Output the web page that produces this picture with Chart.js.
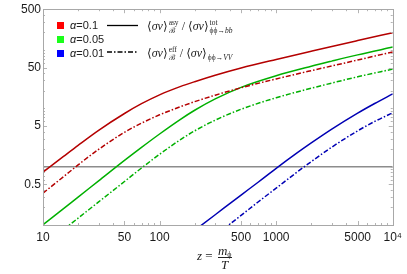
<!DOCTYPE html>
<html>
<head>
<meta charset="utf-8">
<script src="https://cdn.jsdelivr.net/npm/chart.js@4"></script>
<style>
  html, body { margin:0; padding:0; background:#fff; }
  #wrap { position:relative; width:407px; height:274px; }
  #wrap canvas { position:absolute; left:0; top:0; }
  .sq { position:absolute; width:7px; height:7px; }
  .al { position:absolute; font-family:"Liberation Sans", Arial, sans-serif; font-size:11px; line-height:13px; color:#222; }
  .mt { position:absolute; font-family:"Liberation Serif", "DejaVu Serif", serif; font-size:12px; line-height:16px; color:#222; white-space:nowrap; }
  .st { display:inline-flex; flex-direction:column; vertical-align:middle; font-size:7.5px; line-height:8px; margin-left:1px; }
  #xt { position:absolute; font-family:"Liberation Serif", "DejaVu Serif", serif; font-size:13px; color:#222; white-space:nowrap; }
  .fr { display:inline-flex; flex-direction:column; vertical-align:middle; text-align:center; line-height:13px; margin-left:2px; }
  .fr sub { font-size:8px; vertical-align:-2px; line-height:0; }
  .den { border-top:1px solid #222; }
</style>
</head>
<body>
<div id="wrap">
  <canvas id="chart" width="407" height="274"></canvas>

  <div class="sq" style="left:57px;top:21.5px;background:#ff0000"></div>
  <div class="sq" style="left:57px;top:36px;background:#1aff1a"></div>
  <div class="sq" style="left:57px;top:49.5px;background:#0000ff"></div>
  <div class="al" style="left:70px;top:18.5px"><i>α</i>=0.1</div>
  <div class="al" style="left:70px;top:33px"><i>α</i>=0.05</div>
  <div class="al" style="left:70px;top:46.5px"><i>α</i>=0.01</div>

  <svg style="position:absolute;left:107px;top:20px" width="32" height="36">
    <line x1="0" y1="5.5" x2="31" y2="5.5" stroke="#000" stroke-width="1.3"/>
    <line x1="0" y1="32" x2="31" y2="32" stroke="#000" stroke-width="1.3" stroke-dasharray="5 2 1.5 2"/>
  </svg>

  <div class="mt" style="left:147px;top:18px">⟨<i>σv</i>⟩<span class="st"><span>asy</span><span>ℬ</span></span> / ⟨<i>σv</i>⟩<span class="st"><span>tot</span><span>ϕϕ→<i>bb</i></span></span></div>
  <div class="mt" style="left:147px;top:45px">⟨<i>σv</i>⟩<span class="st"><span>eff</span><span>ℬ</span></span> / ⟨<i>σv</i>⟩<span class="st"><span>&nbsp;</span><span>ϕϕ→<i>VV</i></span></span></div>

  <div id="xt" style="left:197px;top:244px"><i>z</i> = <span class="fr"><span><i>m</i><sub>ϕ</sub></span><span class="den"><i>T</i></span></span></div>
</div>

<script>
// valores (z = m/T no eixo x, razão no eixo y)
const zRed = [10, 15, 20, 30, 50, 70, 100, 150, 200, 300, 500, 1000, 2000, 3000, 5000, 10000];
const redAsy = [0.808, 1.50, 2.32, 4.20, 8.15, 12.0, 17.0, 23.5, 28.6, 36.9, 49.1, 68.9, 95.3, 115, 145, 198];
const redEff = [0.352, 0.673, 1.07, 1.98, 3.88, 5.57, 7.74, 10.6, 13.0, 16.8, 22.5, 31.9, 44.2, 53.2, 67.3, 92.7];

const zGreen = zRed;
const greenAsy = [0.101, 0.191, 0.301, 0.571, 1.28, 2.14, 3.63, 6.41, 9.26, 14.5, 22.9, 36.2, 52.6, 64.4, 82.4, 112];
const zGreenEff = [15, 20, 30, 50, 70, 100, 150, 200, 300, 500, 1000, 2000, 3000, 5000, 10000];
const greenEff = [0.0834, 0.131, 0.249, 0.557, 0.948, 1.63, 2.88, 4.11, 6.27, 9.64, 15.2, 22.1, 27.1, 34.7, 47.0];

const zBlue = [200, 300, 500, 700, 1000, 1500, 2000, 3000, 5000, 7000, 10000];
const blueAsy = [0.081, 0.150, 0.326, 0.541, 0.934, 1.70, 2.55, 4.40, 8.27, 12.1, 17.7];
const zBlueEff = [300, 500, 700, 1000, 1500, 2000, 3000, 5000, 7000, 10000];
const blueEff = [0.066, 0.146, 0.248, 0.428, 0.798, 1.22, 2.16, 4.11, 5.96, 8.40];

const refLevel = 1;

const xTickVals = [10, 50, 100, 500, 1000, 5000, 10000];
const xTickText = ["10", "50", "100", "500", "1000", "5000", "10⁴"];
const yTickVals = [0.5, 5, 50, 500];
const yTickText = ["0.5", "5", "50", "500"];

const pts = (xs, ys) => xs.map((x, i) => ({ x, y: ys[i] }));
const DASHDOT = [5, 2, 1.5, 2];

function curve(label, xs, ys, color, dashed) {
  return {
    label, data: pts(xs, ys), borderColor: color, borderWidth: 1.5,
    borderDash: dashed ? DASHDOT : [], pointRadius: 0,
    cubicInterpolationMode: "monotone", fill: false
  };
}

// moldura + marcas de escala para dentro (nos 4 lados)
const frameTicks = {
  id: "frameTicks",
  afterDatasetsDraw(chart) {
    const { ctx, chartArea: a, scales: { x, y } } = chart;
    ctx.save();
    ctx.strokeStyle = "#b4b4b4";
    ctx.lineWidth = 1;
    const line = (x1, y1, x2, y2) => { ctx.beginPath(); ctx.moveTo(x1, y1); ctx.lineTo(x2, y2); ctx.stroke(); };
    for (let d = 10; d < 10000; d *= 10) {
      for (let k = 1; k <= 9; k++) {
        const v = k * d, px = Math.round(x.getPixelForValue(v)) + 0.5;
        const len = xTickVals.includes(v) ? 4 : 2;
        line(px, a.bottom, px, a.bottom - len);
        line(px, a.top, px, a.top + len);
      }
    }
    for (let d = 0.1; d < 500; d *= 10) {
      for (let k = 1; k <= 9; k++) {
        const v = +(k * d).toPrecision(3);
        if (v > 500) break;
        const py = Math.round(y.getPixelForValue(v)) + 0.5;
        const len = yTickVals.includes(v) ? 4 : 2;
        line(a.left, py, a.left + len, py);
        line(a.right, py, a.right - len, py);
      }
    }
    ctx.strokeStyle = "#a8a8a8";
    ctx.strokeRect(Math.round(a.left) + 0.5, Math.round(a.top) + 0.5, Math.round(a.right - a.left), Math.round(a.bottom - a.top));
    ctx.restore();
  }
};

const tickFont = { family: "'Liberation Sans', Arial, sans-serif", size: 12 };

new Chart(document.getElementById("chart"), {
  type: "line",
  data: {
    datasets: [
      curve("red asy", zRed, redAsy, "#b40000", false),
      curve("red eff", zRed, redEff, "#b40000", true),
      curve("green asy", zGreen, greenAsy, "#00b000", false),
      curve("green eff", zGreenEff, greenEff, "#00b000", true),
      curve("blue asy", zBlue, blueAsy, "#0000b4", false),
      curve("blue eff", zBlueEff, blueEff, "#0000b4", true),
      { label: "ref", data: [{ x: 10, y: refLevel }, { x: 10000, y: refLevel }],
        borderColor: "#8c8c8c", borderWidth: 1.5, pointRadius: 0 }
    ]
  },
  options: {
    responsive: false,
    animation: false,
    layout: { padding: { left: 0, right: 10, top: 7, bottom: 0 } },
    plugins: { legend: { display: false }, tooltip: { enabled: false } },
    scales: {
      x: {
        type: "logarithmic", min: 10, max: 10000,
        grid: { display: false, drawTicks: false }, border: { display: false },
        afterBuildTicks: s => { s.ticks = xTickVals.map(v => ({ value: v })); },
        afterFit: s => { s.height = 49; },
        ticks: { autoSkip: false, maxRotation: 0, padding: 5, color: "#1a1a1a", font: tickFont,
                 callback: (v, i) => xTickText[i] }
      },
      y: {
        type: "logarithmic", min: 0.1, max: 500,
        grid: { display: false, drawTicks: false }, border: { display: false },
        afterBuildTicks: s => { s.ticks = yTickVals.map(v => ({ value: v })); },
        afterFit: s => { s.width = 43; },
        ticks: { autoSkip: false, padding: 2, color: "#1a1a1a", font: tickFont,
                 callback: (v, i) => yTickText[i] }
      }
    }
  },
  plugins: [frameTicks]
});
</script>
</body>
</html>
